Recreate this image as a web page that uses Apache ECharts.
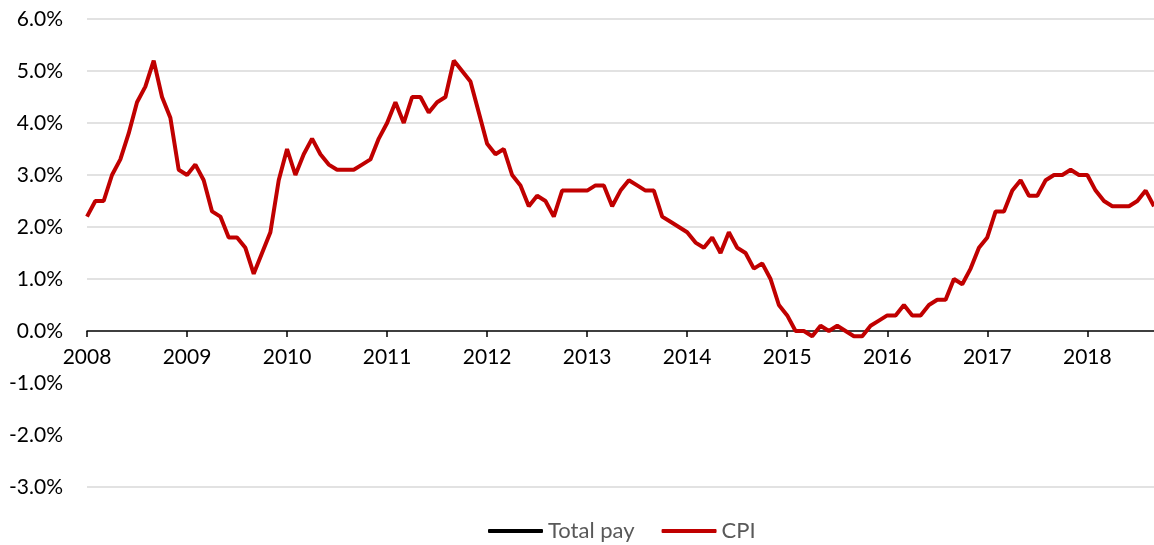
<!DOCTYPE html>
<html><head><meta charset="utf-8">
<script src="https://cdn.jsdelivr.net/npm/echarts@6/dist/echarts.min.js"></script>
<style>html,body{margin:0;padding:0;background:#fff}#c{width:1154px;height:545px}</style>
</head><body><div id="c"></div>
<script>
var years = ['2008','2009','2010','2011','2012','2013','2014','2015','2016','2017','2018'];
var lastYearMonths = 9;
var yTicks = [-3,-2,-1,0,1,2,3,4,5,6];
var cpi = [
 2.2,2.5,2.5,3.0,3.3,3.8,4.4,4.7,5.2,4.5,4.1,3.1,
 3.0,3.2,2.9,2.3,2.2,1.8,1.8,1.6,1.1,1.5,1.9,2.9,
 3.5,3.0,3.4,3.7,3.4,3.2,3.1,3.1,3.1,3.2,3.3,3.7,
 4.0,4.4,4.0,4.5,4.5,4.2,4.4,4.5,5.2,5.0,4.8,4.2,
 3.6,3.4,3.5,3.0,2.8,2.4,2.6,2.5,2.2,2.7,2.7,2.7,
 2.7,2.8,2.8,2.4,2.7,2.9,2.8,2.7,2.7,2.2,2.1,2.0,
 1.9,1.7,1.6,1.8,1.5,1.9,1.6,1.5,1.2,1.3,1.0,0.5,
 0.3,0.0,0.0,-0.1,0.1,0.0,0.1,0.0,-0.1,-0.1,0.1,0.2,
 0.3,0.3,0.5,0.3,0.3,0.5,0.6,0.6,1.0,0.9,1.2,1.6,
 1.8,2.3,2.3,2.7,2.9,2.6,2.6,2.9,3.0,3.0,3.1,3.0,
 3.0,2.7,2.5,2.4,2.4,2.4,2.5,2.7,2.4
];
var totalPay = [];
var months = [];
years.forEach(function(y, i){
  var n = (i === years.length - 1) ? lastYearMonths : 12;
  for (var m = 1; m <= n; m++) months.push(y + '-' + (m < 10 ? '0' + m : m));
});
// gridline colours per tick (no lines at -1% and -2%)
var gridColors = yTicks.map(function(t){ return (t === -1 || t === -2 || t === 0) ? 'rgba(0,0,0,0)' : '#d9d9d9'; });
var font = 'Lato, "Open Sans", sans-serif';
var chart = echarts.init(document.getElementById('c'), null, {renderer:'canvas'});
chart.setOption({
  animation:false,
  grid:[
    {left:87, right:0, top:19, bottom:58, containLabel:false},
    {left:87, right:0, top:19, height:312, containLabel:false}
  ],
  legend:{
    left:483, top:515, itemWidth:55, itemHeight:4, itemGap:27,
    icon:'roundRect',
    textStyle:{color:'#595959', fontSize:22, fontFamily:font},
    data:[{name:'Total pay', itemStyle:{color:'#000'}},{name:'CPI', itemStyle:{color:'#c00000'}}]
  },
  xAxis:[
    {
      gridIndex:0, type:'category', data:months, boundaryGap:false,
      axisLine:{show:false}, axisTick:{show:false}, axisLabel:{show:false}, splitLine:{show:false}
    },
    {
      gridIndex:1, type:'category', data:months, boundaryGap:false, position:'bottom',
      axisLine:{show:true, onZero:false, lineStyle:{color:'#000', width:1.5}},
      axisTick:{show:true, interval:11, length:6, lineStyle:{color:'#000', width:1.5}},
      axisLabel:{interval:11, margin:16, color:'#000', fontSize:21, fontFamily:font,
        formatter:function(v){return v.slice(0,4);}},
      splitLine:{show:false}
    }
  ],
  yAxis:[
    {
      gridIndex:0, type:'value', min:yTicks[0], max:yTicks[yTicks.length-1], interval:1,
      axisLine:{show:false}, axisTick:{show:false},
      axisLabel:{margin:24, color:'#000', fontSize:21, fontFamily:font,
        formatter:function(v){return v.toFixed(1)+'%';}},
      splitLine:{lineStyle:{color:gridColors, width:1.5}}
    },
    {
      gridIndex:1, type:'value', min:0, max:6, show:false
    }
  ],
  series:[
    {name:'Total pay', type:'line', xAxisIndex:0, yAxisIndex:0, data:totalPay, showSymbol:false, lineStyle:{color:'#000', width:4}, itemStyle:{color:'#000'}},
    {name:'CPI', type:'line', xAxisIndex:0, yAxisIndex:0, data:cpi, showSymbol:false, symbol:'none', z:3, lineStyle:{color:'#c00000', width:4}, itemStyle:{color:'#c00000'}}
  ]
});
</script></body></html>
